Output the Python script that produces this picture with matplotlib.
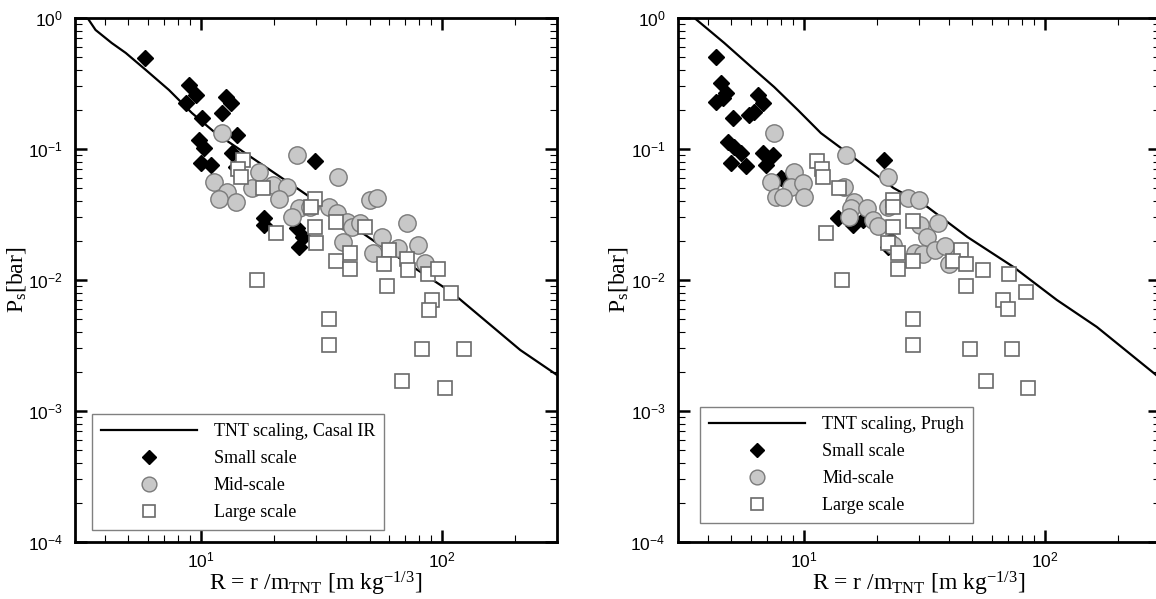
import matplotlib
matplotlib.use('Agg')

import matplotlib.pyplot as plt
import numpy as np
from matplotlib import rcParams
from matplotlib.ticker import LogLocator, NullFormatter

# tick labels in a sans face, text labels / legend in a serif face
rcParams['font.family'] = 'Liberation Sans'
rcParams['mathtext.fontset'] = 'custom'
rcParams['mathtext.rm'] = 'Liberation Serif'
rcParams['mathtext.it'] = 'Liberation Serif:italic'

SERIF = 'Liberation Serif'

# ---------------- data: left panel (Casal IR) ----------------
casal_R = [3.38, 3.65, 4.26, 4.87, 5.9, 7.36, 9.17, 11.5, 25.6, 59.0, 110, 211, 300]
casal_P = [1.0, 0.81, 0.644, 0.541, 0.401, 0.282, 0.188, 0.132, 0.0487, 0.017, 0.008,
           0.00292, 0.00188]

left_small_R = [5.84, 8.9, 9.5, 8.66, 12.7, 13.3, 12.2, 10.1, 14.1, 9.8, 10.3,
                10.0, 11.0, 13.5, 14.0, 29.6, 18.3, 18.3, 25.1, 26.4, 25.6]
left_small_P = [0.495, 0.308, 0.258, 0.224, 0.249, 0.224, 0.188, 0.172, 0.128, 0.117, 0.102,
                0.078, 0.075, 0.093, 0.073, 0.081, 0.0297, 0.0263, 0.0249, 0.0213, 0.0179]

left_mid_R = [12.2, 24.9, 17.4, 36.9, 11.3, 12.8, 11.9, 14.0, 16.2, 19.8, 22.8, 21.1,
              25.6, 23.9, 28.2, 34.1, 36.5, 40.2, 42.2, 45.5, 50.1, 53.6, 56.2, 38.7,
              71.5, 51.6, 65.6, 79.4, 85.0]
left_mid_P = [0.132, 0.090, 0.0668, 0.0611, 0.056, 0.047, 0.0415, 0.0394, 0.0504, 0.053,
              0.0513, 0.0415, 0.0355, 0.0303, 0.0361, 0.0361, 0.0325, 0.0277, 0.0254, 0.0272,
              0.0408, 0.0423, 0.0213, 0.0195, 0.0272, 0.0161, 0.0176, 0.0185, 0.0135]

left_large_R = [15.0, 14.3, 14.7, 18.0, 20.5, 29.6, 28.7, 29.6, 30.1, 36.2, 47.8, 41.4,
                36.2, 41.4, 60.1, 57.3, 71.5, 72.1, 87.4, 96.2, 59.0, 17.1, 109, 90.9,
                88.3, 34.1, 34.1, 82.5, 123.5, 68.1, 103]
left_large_P = [0.0824, 0.0704, 0.0611, 0.0504, 0.0229, 0.0415, 0.0361, 0.0254, 0.0192,
                0.0277, 0.0254, 0.0161, 0.014, 0.0121, 0.017, 0.0132, 0.0145, 0.0119,
                0.0111, 0.0121, 0.009, 0.010, 0.008, 0.00703, 0.0059, 0.00504, 0.0032,
                0.00297, 0.00297, 0.0017, 0.0015]

# ---------------- data: right panel (Prugh) ----------------
prugh_R = [3.51, 4.67, 6.04, 7.52, 9.44, 11.76, 14.2, 23.5, 32.5, 47.6, 73.8, 112, 164, 300]
prugh_P = [1.0, 0.644, 0.423, 0.297, 0.198, 0.132, 0.102, 0.0504, 0.0361, 0.0213,
           0.0126, 0.00703, 0.00438, 0.00178]

right_small_R = [4.33, 4.54, 4.76, 4.33, 4.63, 6.46, 6.78, 6.21, 5.93, 5.09, 4.86, 5.14,
                 5.5, 4.99, 5.75, 6.78, 7.45, 6.96, 8.04, 21.4, 13.8, 15.9, 17.5, 22.9, 22.3]
right_small_P = [0.504, 0.319, 0.268, 0.228, 0.245, 0.258, 0.224, 0.191, 0.182, 0.172,
                 0.113, 0.104, 0.093, 0.078, 0.074, 0.093, 0.090, 0.0755, 0.060, 0.0824,
                 0.0297, 0.0263, 0.0287, 0.0202, 0.0179]

right_mid_R = [7.52, 9.1, 7.31, 8.83, 9.9, 7.66, 10.0, 8.19, 14.9, 14.6, 22.3, 26.9, 29.9,
               16.1, 15.6, 18.2, 15.3, 19.3, 20.2, 22.4, 30.4, 36.1, 32.5, 29.0, 31.3,
               35.1, 38.6, 39.8, 23.5]
right_mid_P = [0.132, 0.0668, 0.056, 0.0513, 0.055, 0.043, 0.043, 0.043, 0.090, 0.0513,
               0.0611, 0.0423, 0.0408, 0.0394, 0.0355, 0.0355, 0.0303, 0.0287, 0.0258,
               0.0361, 0.0263, 0.0272, 0.0213, 0.0161, 0.0158, 0.0170, 0.0182, 0.0132, 0.0185]

right_large_R = [11.3, 11.9, 12.0, 14.0, 12.3, 23.5, 23.5, 28.2, 23.5, 22.4, 24.5, 28.2,
                 24.5, 44.6, 41.7, 47.2, 55.5, 71.0, 47.2, 83.4, 14.4, 67.0, 70.3, 49.0,
                 73.1, 57.0, 85.1, 28.2, 28.2]
right_large_P = [0.081, 0.0704, 0.0611, 0.0504, 0.0229, 0.0408, 0.0361, 0.0282, 0.0254,
                 0.0192, 0.0161, 0.014, 0.0121, 0.017, 0.014, 0.0132, 0.0119, 0.0111, 0.009,
                 0.0081, 0.010, 0.007, 0.006, 0.00297, 0.00297, 0.0017, 0.0015, 0.005, 0.0032]


def style_axes(ax):
    """log-log axes with inward ticks on all four sides"""
    ax.set_xscale('log')
    ax.set_yscale('log')
    ax.set_xlim(3, 300)
    ax.set_ylim(1e-4, 1)
    for axis in (ax.xaxis, ax.yaxis):
        axis.set_major_locator(LogLocator(base=10, numticks=10))
        axis.set_minor_locator(LogLocator(base=10, subs=np.arange(2, 10), numticks=10))
        axis.set_minor_formatter(NullFormatter())
    ax.tick_params(which='major', direction='in', length=8.5, width=1.8,
                   top=True, right=True, labelsize=12.5)
    ax.tick_params(axis='y', which='major', pad=9)
    ax.tick_params(axis='x', which='major', pad=6)
    ax.tick_params(which='minor', direction='in', length=5, width=0.8,
                   top=True, right=True)
    for s in ax.spines.values():
        s.set_linewidth(2)
    ax.set_xlabel(r'R = r /m$_{\rm TNT}$ [m kg$^{-1/3}$]', fontfamily=SERIF,
                  fontsize=17, labelpad=0)
    ax.set_ylabel(r'P$_{\rm s}$[bar]', fontfamily=SERIF, fontsize=17, labelpad=0)


def draw_panel(ax, line_R, line_P, line_label, small, mid, large, anchor):
    ax.plot(line_R, line_P, color='black', lw=1.6, label=line_label, zorder=2)
    ax.plot(small[0], small[1], ls='none', marker='D', ms=8.5, mfc='black',
            mec='black', label='Small scale', zorder=3)
    ax.plot(mid[0], mid[1], ls='none', marker='o', ms=12.5, mfc='#c8c8c8',
            mec='#7a7a7a', mew=1.0, label='Mid-scale', zorder=4)
    ax.plot(large[0], large[1], ls='none', marker='s', ms=10, mfc='white',
            mec='#6a6a6a', mew=1.2, label='Large scale', zorder=5)
    style_axes(ax)
    leg = ax.legend(loc='lower left', bbox_to_anchor=anchor,
                    prop={'family': SERIF, 'size': 13}, frameon=True, fancybox=False,
                    edgecolor='#808080', framealpha=1, handlelength=5.3,
                    handletextpad=0.95, labelspacing=0.55, borderaxespad=0,
                    borderpad=0.5, markerscale=0.85)
    leg.get_frame().set_linewidth(1.0)


fig = plt.figure(figsize=(11.56, 5.99), dpi=100)
ax_left = fig.add_axes([0.0649, 0.0952, 0.417, 0.8748])
ax_right = fig.add_axes([0.5865, 0.0952, 0.417, 0.8748])

draw_panel(ax_left, casal_R, casal_P, 'TNT scaling, Casal IR',
           (left_small_R, left_small_P), (left_mid_R, left_mid_P),
           (left_large_R, left_large_P), (0.035, 0.023))
draw_panel(ax_right, prugh_R, prugh_P, 'TNT scaling, Prugh',
           (right_small_R, right_small_P), (right_mid_R, right_mid_P),
           (right_large_R, right_large_P), (0.046, 0.036))

fig.savefig('out.png', dpi=100)
